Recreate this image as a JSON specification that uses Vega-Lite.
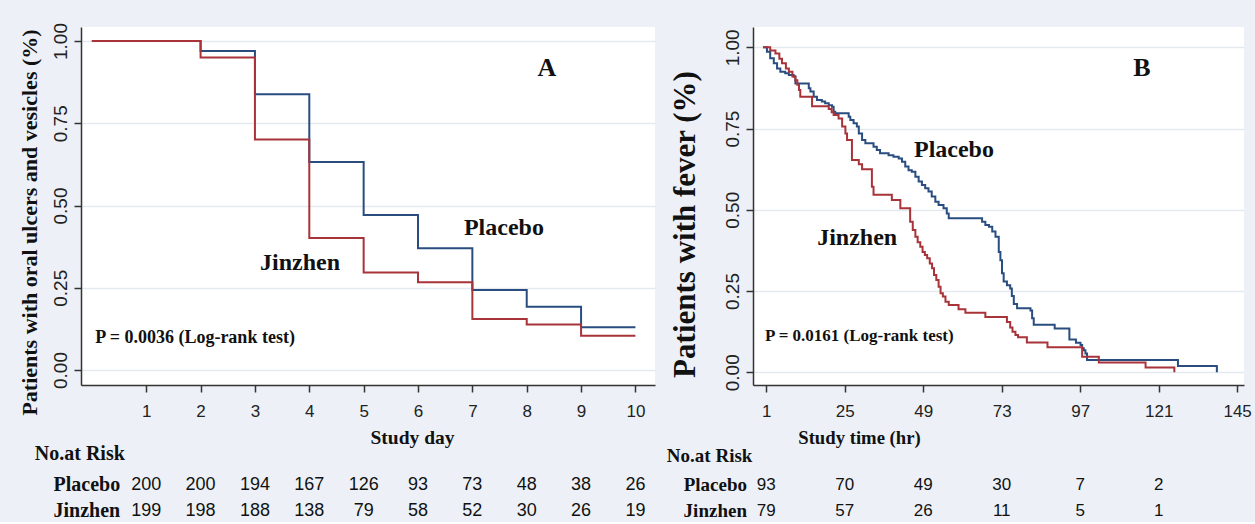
{
  "$schema": "https://vega.github.io/schema/vega-lite/v6.json",
  "background": "#edf1f7",
  "padding": {"left": 17, "top": 22, "right": 5, "bottom": 0},
  "bounds": "flush",
  "spacing": 98,
  "config": {
    "view": {"fill": "white", "stroke": null},
    "axis": {
      "labelFont": "Liberation Sans",
      "labelColor": "#222222",
      "titleFont": "Liberation Serif",
      "titleFontWeight": "bold",
      "titleColor": "#111111",
      "domainColor": "#333333",
      "domainWidth": 1.5,
      "tickColor": "#333333",
      "tickWidth": 1.5,
      "tickSize": 7,
      "gridColor": "#e4e9f0",
      "gridWidth": 1.5
    },
    "text": {"color": "#111111"}
  },
  "datasets": {
    "kmA": [
      {"group": "Placebo", "t": 0, "s": 1.0},
      {"group": "Placebo", "t": 2, "s": 0.970},
      {"group": "Placebo", "t": 3, "s": 0.838},
      {"group": "Placebo", "t": 4, "s": 0.632},
      {"group": "Placebo", "t": 5, "s": 0.471},
      {"group": "Placebo", "t": 6, "s": 0.370},
      {"group": "Placebo", "t": 7, "s": 0.243},
      {"group": "Placebo", "t": 8, "s": 0.192},
      {"group": "Placebo", "t": 9, "s": 0.130},
      {"group": "Placebo", "t": 10, "s": 0.130},
      {"group": "Jinzhen", "t": 0, "s": 1.0},
      {"group": "Jinzhen", "t": 2, "s": 0.950},
      {"group": "Jinzhen", "t": 3, "s": 0.701},
      {"group": "Jinzhen", "t": 4, "s": 0.401},
      {"group": "Jinzhen", "t": 5, "s": 0.296},
      {"group": "Jinzhen", "t": 6, "s": 0.267},
      {"group": "Jinzhen", "t": 7, "s": 0.155},
      {"group": "Jinzhen", "t": 8, "s": 0.138},
      {"group": "Jinzhen", "t": 9, "s": 0.104},
      {"group": "Jinzhen", "t": 10, "s": 0.104}
    ],
    "riskA": [
      {"group": "Placebo", "t": 1, "n": 200}, {"group": "Placebo", "t": 2, "n": 200},
      {"group": "Placebo", "t": 3, "n": 194}, {"group": "Placebo", "t": 4, "n": 167},
      {"group": "Placebo", "t": 5, "n": 126}, {"group": "Placebo", "t": 6, "n": 93},
      {"group": "Placebo", "t": 7, "n": 73}, {"group": "Placebo", "t": 8, "n": 48},
      {"group": "Placebo", "t": 9, "n": 38}, {"group": "Placebo", "t": 10, "n": 26},
      {"group": "Jinzhen", "t": 1, "n": 199}, {"group": "Jinzhen", "t": 2, "n": 198},
      {"group": "Jinzhen", "t": 3, "n": 188}, {"group": "Jinzhen", "t": 4, "n": 138},
      {"group": "Jinzhen", "t": 5, "n": 79}, {"group": "Jinzhen", "t": 6, "n": 58},
      {"group": "Jinzhen", "t": 7, "n": 52}, {"group": "Jinzhen", "t": 8, "n": 30},
      {"group": "Jinzhen", "t": 9, "n": 26}, {"group": "Jinzhen", "t": 10, "n": 19}
    ],
    "kmB": [
      {"group": "Placebo", "t": 0, "s": 1.0},
      {"group": "Placebo", "t": 1.2, "s": 0.986},
      {"group": "Placebo", "t": 2.2, "s": 0.966},
      {"group": "Placebo", "t": 3.3, "s": 0.951},
      {"group": "Placebo", "t": 4.3, "s": 0.935},
      {"group": "Placebo", "t": 5.3, "s": 0.925},
      {"group": "Placebo", "t": 6.8, "s": 0.92},
      {"group": "Placebo", "t": 7.9, "s": 0.915},
      {"group": "Placebo", "t": 9.4, "s": 0.91},
      {"group": "Placebo", "t": 9.9, "s": 0.889},
      {"group": "Placebo", "t": 14, "s": 0.874},
      {"group": "Placebo", "t": 14.5, "s": 0.864},
      {"group": "Placebo", "t": 15.5, "s": 0.848},
      {"group": "Placebo", "t": 16.5, "s": 0.838},
      {"group": "Placebo", "t": 18, "s": 0.833},
      {"group": "Placebo", "t": 19, "s": 0.828},
      {"group": "Placebo", "t": 20.1, "s": 0.822},
      {"group": "Placebo", "t": 21.1, "s": 0.817},
      {"group": "Placebo", "t": 21.6, "s": 0.802},
      {"group": "Placebo", "t": 22.1, "s": 0.797},
      {"group": "Placebo", "t": 26.2, "s": 0.786},
      {"group": "Placebo", "t": 26.7, "s": 0.776},
      {"group": "Placebo", "t": 27.7, "s": 0.766},
      {"group": "Placebo", "t": 28.7, "s": 0.756},
      {"group": "Placebo", "t": 29.3, "s": 0.735},
      {"group": "Placebo", "t": 30.3, "s": 0.715},
      {"group": "Placebo", "t": 31.3, "s": 0.705},
      {"group": "Placebo", "t": 33.8, "s": 0.694},
      {"group": "Placebo", "t": 34.8, "s": 0.684},
      {"group": "Placebo", "t": 35.8, "s": 0.674},
      {"group": "Placebo", "t": 38.4, "s": 0.668},
      {"group": "Placebo", "t": 39.9, "s": 0.663},
      {"group": "Placebo", "t": 41.5, "s": 0.658},
      {"group": "Placebo", "t": 42.5, "s": 0.648},
      {"group": "Placebo", "t": 43.5, "s": 0.633},
      {"group": "Placebo", "t": 44.5, "s": 0.622},
      {"group": "Placebo", "t": 45.5, "s": 0.617},
      {"group": "Placebo", "t": 46.6, "s": 0.602},
      {"group": "Placebo", "t": 47.6, "s": 0.587},
      {"group": "Placebo", "t": 48.6, "s": 0.576},
      {"group": "Placebo", "t": 49.6, "s": 0.566},
      {"group": "Placebo", "t": 50.6, "s": 0.556},
      {"group": "Placebo", "t": 51.6, "s": 0.541},
      {"group": "Placebo", "t": 52.7, "s": 0.525},
      {"group": "Placebo", "t": 53.7, "s": 0.515},
      {"group": "Placebo", "t": 55.2, "s": 0.505},
      {"group": "Placebo", "t": 56.2, "s": 0.489},
      {"group": "Placebo", "t": 56.8, "s": 0.474},
      {"group": "Placebo", "t": 67, "s": 0.463},
      {"group": "Placebo", "t": 68, "s": 0.453},
      {"group": "Placebo", "t": 69.1, "s": 0.448},
      {"group": "Placebo", "t": 70.1, "s": 0.433},
      {"group": "Placebo", "t": 71.1, "s": 0.417},
      {"group": "Placebo", "t": 72.1, "s": 0.37},
      {"group": "Placebo", "t": 72.6, "s": 0.345},
      {"group": "Placebo", "t": 73.1, "s": 0.305},
      {"group": "Placebo", "t": 73.6, "s": 0.279},
      {"group": "Placebo", "t": 74.6, "s": 0.268},
      {"group": "Placebo", "t": 75.6, "s": 0.258},
      {"group": "Placebo", "t": 76.1, "s": 0.235},
      {"group": "Placebo", "t": 76.7, "s": 0.21},
      {"group": "Placebo", "t": 77.7, "s": 0.197},
      {"group": "Placebo", "t": 81.8, "s": 0.19},
      {"group": "Placebo", "t": 82.3, "s": 0.166},
      {"group": "Placebo", "t": 82.8, "s": 0.146},
      {"group": "Placebo", "t": 89.2, "s": 0.135},
      {"group": "Placebo", "t": 93.7, "s": 0.101},
      {"group": "Placebo", "t": 95.7, "s": 0.091},
      {"group": "Placebo", "t": 97.1, "s": 0.084},
      {"group": "Placebo", "t": 97.6, "s": 0.074},
      {"group": "Placebo", "t": 98.1, "s": 0.068},
      {"group": "Placebo", "t": 98.6, "s": 0.058},
      {"group": "Placebo", "t": 99.1, "s": 0.038},
      {"group": "Placebo", "t": 126.9, "s": 0.019},
      {"group": "Placebo", "t": 138.8, "s": 0.0},
      {"group": "Jinzhen", "t": 0, "s": 1.0},
      {"group": "Jinzhen", "t": 2.2, "s": 0.99},
      {"group": "Jinzhen", "t": 3.8, "s": 0.981},
      {"group": "Jinzhen", "t": 5, "s": 0.965},
      {"group": "Jinzhen", "t": 5.8, "s": 0.951},
      {"group": "Jinzhen", "t": 7, "s": 0.935},
      {"group": "Jinzhen", "t": 7.9, "s": 0.925},
      {"group": "Jinzhen", "t": 9, "s": 0.91},
      {"group": "Jinzhen", "t": 9.9, "s": 0.899},
      {"group": "Jinzhen", "t": 10.5, "s": 0.885},
      {"group": "Jinzhen", "t": 11, "s": 0.869},
      {"group": "Jinzhen", "t": 11.4, "s": 0.848},
      {"group": "Jinzhen", "t": 15, "s": 0.819},
      {"group": "Jinzhen", "t": 20.1, "s": 0.81},
      {"group": "Jinzhen", "t": 21, "s": 0.8},
      {"group": "Jinzhen", "t": 21.6, "s": 0.792},
      {"group": "Jinzhen", "t": 23.1, "s": 0.781},
      {"group": "Jinzhen", "t": 24.2, "s": 0.756},
      {"group": "Jinzhen", "t": 25.2, "s": 0.735},
      {"group": "Jinzhen", "t": 25.7, "s": 0.715},
      {"group": "Jinzhen", "t": 27.2, "s": 0.653},
      {"group": "Jinzhen", "t": 29.3, "s": 0.64},
      {"group": "Jinzhen", "t": 30.3, "s": 0.625},
      {"group": "Jinzhen", "t": 33.3, "s": 0.571},
      {"group": "Jinzhen", "t": 33.8, "s": 0.546},
      {"group": "Jinzhen", "t": 39.4, "s": 0.53},
      {"group": "Jinzhen", "t": 42, "s": 0.505},
      {"group": "Jinzhen", "t": 45, "s": 0.463},
      {"group": "Jinzhen", "t": 45.8, "s": 0.438},
      {"group": "Jinzhen", "t": 46.6, "s": 0.417},
      {"group": "Jinzhen", "t": 47.3, "s": 0.4},
      {"group": "Jinzhen", "t": 48.1, "s": 0.386},
      {"group": "Jinzhen", "t": 48.8, "s": 0.37},
      {"group": "Jinzhen", "t": 49.5, "s": 0.361},
      {"group": "Jinzhen", "t": 50.2, "s": 0.351},
      {"group": "Jinzhen", "t": 51, "s": 0.335},
      {"group": "Jinzhen", "t": 51.7, "s": 0.32},
      {"group": "Jinzhen", "t": 52.3, "s": 0.299},
      {"group": "Jinzhen", "t": 53, "s": 0.284},
      {"group": "Jinzhen", "t": 53.7, "s": 0.263},
      {"group": "Jinzhen", "t": 54.3, "s": 0.243},
      {"group": "Jinzhen", "t": 55, "s": 0.233},
      {"group": "Jinzhen", "t": 55.8, "s": 0.217},
      {"group": "Jinzhen", "t": 56.8, "s": 0.207},
      {"group": "Jinzhen", "t": 59.8, "s": 0.194},
      {"group": "Jinzhen", "t": 61.9, "s": 0.183},
      {"group": "Jinzhen", "t": 68, "s": 0.17},
      {"group": "Jinzhen", "t": 74.6, "s": 0.155},
      {"group": "Jinzhen", "t": 75.6, "s": 0.138},
      {"group": "Jinzhen", "t": 76.3, "s": 0.125},
      {"group": "Jinzhen", "t": 77.2, "s": 0.115},
      {"group": "Jinzhen", "t": 78, "s": 0.108},
      {"group": "Jinzhen", "t": 80.7, "s": 0.092},
      {"group": "Jinzhen", "t": 87, "s": 0.077},
      {"group": "Jinzhen", "t": 97.6, "s": 0.048},
      {"group": "Jinzhen", "t": 102.7, "s": 0.03},
      {"group": "Jinzhen", "t": 117, "s": 0.015},
      {"group": "Jinzhen", "t": 125.8, "s": 0.0}
    ],
    "riskB": [
      {"group": "Placebo", "t": 1, "n": 93}, {"group": "Placebo", "t": 25, "n": 70},
      {"group": "Placebo", "t": 49, "n": 49}, {"group": "Placebo", "t": 73, "n": 30},
      {"group": "Placebo", "t": 97, "n": 7}, {"group": "Placebo", "t": 121, "n": 2},
      {"group": "Jinzhen", "t": 1, "n": 79}, {"group": "Jinzhen", "t": 25, "n": 57},
      {"group": "Jinzhen", "t": 49, "n": 26}, {"group": "Jinzhen", "t": 73, "n": 11},
      {"group": "Jinzhen", "t": 97, "n": 5}, {"group": "Jinzhen", "t": 121, "n": 1}
    ]
  },
  "hconcat": [
    {
      "width": 574,
      "height": 358,
      "layer": [
        {
          "data": {"name": "kmA"},
          "mark": {"type": "line", "interpolate": "step-after", "strokeWidth": 2},
          "encoding": {
            "x": {
              "field": "t", "type": "quantitative",
              "scale": {"domain": [-0.2, 10.36], "nice": false, "zero": false},
              "axis": {"values": [1,2,3,4,5,6,7,8,9,10], "format": "d", "title": "Study day", "grid": false,
                       "labelFontSize": 17, "labelPadding": 11, "titleFontSize": 19.5, "titlePadding": 9, "titleX": 331}
            },
            "y": {
              "field": "s", "type": "quantitative",
              "scale": {"domain": [-0.0456, 1.0426], "nice": false, "zero": false},
              "axis": {"values": [0, 0.25, 0.5, 0.75, 1], "format": ".2f", "grid": true,
                       "title": "Patients with oral ulcers and vesicles (%)",
                       "labelAngle": -90, "labelAlign": "center", "labelBaseline": "bottom",
                       "labelFontSize": 19, "labelPadding": 4, "titleFontSize": 22, "titlePadding": 10, "titleY": 195}
            },
            "color": {"field": "group", "type": "nominal",
                      "scale": {"domain": ["Placebo", "Jinzhen"], "range": ["#2a4d80", "#a83338"]}, "legend": null}
          }
        },
        {
          "data": {"values": [{"label": "A"}]},
          "mark": {"type": "text", "font": "Liberation Serif", "fontWeight": "bold", "fontSize": 26, "align": "center", "baseline": "middle"},
          "encoding": {"x": {"datum": 8.37}, "y": {"datum": 0.918}, "text": {"field": "label"}}
        },
        {
          "data": {"values": [{"label": "Placebo"}]},
          "mark": {"type": "text", "font": "Liberation Serif", "fontWeight": "bold", "fontSize": 24, "align": "center", "baseline": "middle"},
          "encoding": {"x": {"datum": 7.58}, "y": {"datum": 0.432}, "text": {"field": "label"}}
        },
        {
          "data": {"values": [{"label": "Jinzhen"}]},
          "mark": {"type": "text", "font": "Liberation Serif", "fontWeight": "bold", "fontSize": 24, "align": "center", "baseline": "middle"},
          "encoding": {"x": {"datum": 3.83}, "y": {"datum": 0.325}, "text": {"field": "label"}}
        },
        {
          "data": {"values": [{"label": "P = 0.0036 (Log-rank test)"}]},
          "mark": {"type": "text", "font": "Liberation Serif", "fontWeight": "bold", "fontSize": 18, "align": "left", "baseline": "middle"},
          "encoding": {"x": {"datum": 0.06}, "y": {"datum": 0.097}, "text": {"field": "label"}}
        },
        {
          "data": {"values": [{"label": "No.at Risk"}]},
          "mark": {"type": "text", "font": "Liberation Serif", "fontWeight": "bold", "fontSize": 20, "align": "left", "baseline": "middle"},
          "encoding": {"x": {"datum": -1.05}, "y": {"datum": -0.255}, "text": {"field": "label"}}
        },
        {
          "data": {"values": [{"label": "Placebo"}]},
          "mark": {"type": "text", "font": "Liberation Serif", "fontWeight": "bold", "fontSize": 20, "align": "right", "baseline": "middle"},
          "encoding": {"x": {"datum": 0.52}, "y": {"datum": -0.3495}, "text": {"field": "label"}}
        },
        {
          "data": {"values": [{"label": "Jinzhen"}]},
          "mark": {"type": "text", "font": "Liberation Serif", "fontWeight": "bold", "fontSize": 20, "align": "right", "baseline": "middle"},
          "encoding": {"x": {"datum": 0.52}, "y": {"datum": -0.4286}, "text": {"field": "label"}}
        },
        {
          "data": {"name": "riskA"},
          "transform": [{"filter": "datum.group === 'Placebo'"}],
          "mark": {"type": "text", "font": "Liberation Sans", "fontSize": 18, "align": "center", "baseline": "middle"},
          "encoding": {"x": {"field": "t", "type": "quantitative"}, "y": {"datum": -0.3495}, "text": {"field": "n"}}
        },
        {
          "data": {"name": "riskA"},
          "transform": [{"filter": "datum.group === 'Jinzhen'"}],
          "mark": {"type": "text", "font": "Liberation Sans", "fontSize": 18, "align": "center", "baseline": "middle"},
          "encoding": {"x": {"field": "t", "type": "quantitative"}, "y": {"datum": -0.4286}, "text": {"field": "n"}}
        }
      ]
    },
    {
      "width": 491,
      "height": 358,
      "layer": [
        {
          "data": {"name": "kmB"},
          "mark": {"type": "line", "interpolate": "step-after", "strokeWidth": 2},
          "encoding": {
            "x": {
              "field": "t", "type": "quantitative",
              "scale": {"domain": [-3.06, 147.1], "nice": false, "zero": false},
              "axis": {"values": [1, 25, 49, 73, 97, 121, 145], "format": "d", "title": "Study time (hr)", "grid": false,
                       "labelFontSize": 17, "labelPadding": 11, "titleFontSize": 18.7, "titlePadding": 9, "titleX": 106}
            },
            "y": {
              "field": "s", "type": "quantitative",
              "scale": {"domain": [-0.0391, 1.0625], "nice": false, "zero": false},
              "axis": {"values": [0, 0.25, 0.5, 0.75, 1], "format": ".2f", "grid": true,
                       "title": "Patients with fever (%)",
                       "labelAngle": -90, "labelAlign": "center", "labelBaseline": "bottom",
                       "labelFontSize": 19, "labelPadding": 4, "titleFontSize": 31, "titlePadding": 22, "titleY": 197}
            },
            "color": {"field": "group", "type": "nominal",
                      "scale": {"domain": ["Placebo", "Jinzhen"], "range": ["#2a4d80", "#a83338"]}, "legend": null}
          }
        },
        {
          "data": {"values": [{"label": "B"}]},
          "mark": {"type": "text", "font": "Liberation Serif", "fontWeight": "bold", "fontSize": 26, "align": "center", "baseline": "middle"},
          "encoding": {"x": {"datum": 115.9}, "y": {"datum": 0.936}, "text": {"field": "label"}}
        },
        {
          "data": {"values": [{"label": "Placebo"}]},
          "mark": {"type": "text", "font": "Liberation Serif", "fontWeight": "bold", "fontSize": 24, "align": "center", "baseline": "middle"},
          "encoding": {"x": {"datum": 58.4}, "y": {"datum": 0.684}, "text": {"field": "label"}}
        },
        {
          "data": {"values": [{"label": "Jinzhen"}]},
          "mark": {"type": "text", "font": "Liberation Serif", "fontWeight": "bold", "fontSize": 24, "align": "center", "baseline": "middle"},
          "encoding": {"x": {"datum": 28.8}, "y": {"datum": 0.413}, "text": {"field": "label"}}
        },
        {
          "data": {"values": [{"label": "P = 0.0161 (Log-rank test)"}]},
          "mark": {"type": "text", "font": "Liberation Serif", "fontWeight": "bold", "fontSize": 17, "align": "left", "baseline": "middle"},
          "encoding": {"x": {"datum": 0.6}, "y": {"datum": 0.113}, "text": {"field": "label"}}
        },
        {
          "data": {"values": [{"label": "No.at Risk"}]},
          "mark": {"type": "text", "font": "Liberation Serif", "fontWeight": "bold", "fontSize": 19, "align": "left", "baseline": "middle"},
          "encoding": {"x": {"datum": -29.4}, "y": {"datum": -0.2575}, "text": {"field": "label"}}
        },
        {
          "data": {"values": [{"label": "Placebo"}]},
          "mark": {"type": "text", "font": "Liberation Serif", "fontWeight": "bold", "fontSize": 19, "align": "right", "baseline": "middle"},
          "encoding": {"x": {"datum": -4.9}, "y": {"datum": -0.3468}, "text": {"field": "label"}}
        },
        {
          "data": {"values": [{"label": "Jinzhen"}]},
          "mark": {"type": "text", "font": "Liberation Serif", "fontWeight": "bold", "fontSize": 19, "align": "right", "baseline": "middle"},
          "encoding": {"x": {"datum": -4.9}, "y": {"datum": -0.4268}, "text": {"field": "label"}}
        },
        {
          "data": {"name": "riskB"},
          "transform": [{"filter": "datum.group === 'Placebo'"}],
          "mark": {"type": "text", "font": "Liberation Sans", "fontSize": 17, "align": "center", "baseline": "middle"},
          "encoding": {"x": {"field": "t", "type": "quantitative"}, "y": {"datum": -0.3468}, "text": {"field": "n"}}
        },
        {
          "data": {"name": "riskB"},
          "transform": [{"filter": "datum.group === 'Jinzhen'"}],
          "mark": {"type": "text", "font": "Liberation Sans", "fontSize": 17, "align": "center", "baseline": "middle"},
          "encoding": {"x": {"field": "t", "type": "quantitative"}, "y": {"datum": -0.4268}, "text": {"field": "n"}}
        }
      ]
    }
  ]
}
